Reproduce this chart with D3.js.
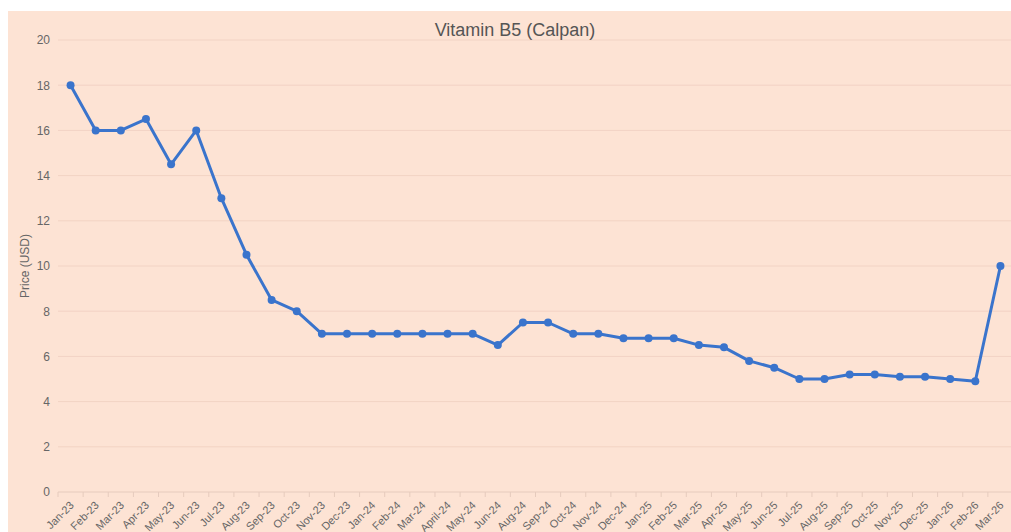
<!DOCTYPE html>
<html>
<head>
<meta charset="utf-8">
<script src="https://cdn.jsdelivr.net/npm/d3@7"></script>
<style>
  body { margin: 0; background: #fff; }
  text { font-family: "Liberation Sans", Arial, sans-serif; }
</style>
</head>
<body>
<div id="chart"></div>
<script>
// Data
var months = ["Jan-23", "Feb-23", "Mar-23", "Apr-23", "May-23", "Jun-23", "Jul-23", "Aug-23", "Sep-23", "Oct-23", "Nov-23", "Dec-23",
    "Jan-24", "Feb-24", "Mar-24", "April-24", "May-24", "Jun-24", "Aug-24", "Sep-24", "Oct-24", "Nov-24", "Dec-24",
    "Jan-25", "Feb-25", "Mar-25", "Apr-25", "May-25", "Jun-25", "Jul-25", "Aug-25", "Sep-25", "Oct-25", "Nov-25", "Dec-25",
    "Jan-26", "Feb-26", "Mar-26"];
var prices = [18, 16, 16, 16.5, 14.5, 16, 13, 10.5, 8.5, 8, 7, 7,
    7, 7, 7, 7, 7, 6.5, 7.5, 7.5, 7, 7, 6.8,
    6.8, 6.8, 6.5, 6.4, 5.8, 5.5, 5, 5, 5.2, 5.2, 5.1, 5.1,
    5, 4.9, 10];
var yTicks = [0, 2, 4, 6, 8, 10, 12, 14, 16, 18, 20];

var svgWidth = 1011;
var svgHeight = 532;
var margin = { top: 40, right: -2, bottom: 40, left: 58 };
var width = svgWidth - margin.left - margin.right;
var height = 492 - margin.top;

var svg = d3.select("#chart")
    .append("svg")
    .attr("width", svgWidth)
    .attr("height", svgHeight);

// peach background
svg.append("rect")
    .attr("x", 8)
    .attr("y", 11)
    .attr("width", svgWidth - 8)
    .attr("height", svgHeight - 11)
    .attr("fill", "#fde3d4");

var chartGroup = svg.append("g")
    .attr("transform", `translate(${margin.left}, ${margin.top})`);

// Scales
var xScale = d3.scalePoint()
    .domain(months)
    .range([0, width])
    .padding(0.5);
var yScale = d3.scaleLinear()
    .domain([0, 20])
    .range([height, 0]);

// Grid lines
chartGroup.selectAll(".grid")
    .data(yTicks.filter(d => d > 0))
    .enter()
    .append("line")
    .attr("x1", 0)
    .attr("x2", width)
    .attr("y1", d => yScale(d))
    .attr("y2", d => yScale(d))
    .attr("stroke", "#f2d3c4")
    .attr("stroke-width", 1);

// Y axis labels
var leftAxis = d3.axisLeft(yScale).tickValues(yTicks).tickSize(0).tickPadding(8);
var yAxis = chartGroup.append("g").call(leftAxis);
yAxis.select(".domain").remove();
yAxis.selectAll("text")
    .attr("fill", "#666")
    .style("font-size", "12px");

// X axis with boundary ticks
var step = xScale.step();
chartGroup.append("line")
    .attr("x1", 0).attr("x2", width)
    .attr("y1", height).attr("y2", height)
    .attr("stroke", "#e6cbbd");
chartGroup.selectAll(".xtick")
    .data(months)
    .enter()
    .append("line")
    .attr("x1", d => xScale(d) - step / 2)
    .attr("x2", d => xScale(d) - step / 2)
    .attr("y1", height)
    .attr("y2", height + 5)
    .attr("stroke", "#e6cbbd");

chartGroup.selectAll(".xlabel")
    .data(months)
    .enter()
    .append("text")
    .attr("transform", d => `translate(${xScale(d) + 4}, ${height + 14}) rotate(-45)`)
    .attr("text-anchor", "end")
    .attr("fill", "#666")
    .style("font-size", "11px")
    .text(d => d);

// Line
var line = d3.line()
    .x((d, i) => xScale(months[i]))
    .y(d => yScale(d));

chartGroup.append("path")
    .datum(prices)
    .attr("d", line)
    .attr("fill", "none")
    .attr("stroke", "#3a74cc")
    .attr("stroke-width", 3)
    .attr("stroke-linejoin", "round");

chartGroup.selectAll("circle")
    .data(prices)
    .enter()
    .append("circle")
    .attr("cx", (d, i) => xScale(months[i]))
    .attr("cy", d => yScale(d))
    .attr("r", 4)
    .attr("fill", "#3a74cc");

// Axis title
svg.append("text")
    .attr("transform", `translate(29, ${margin.top + height / 2}) rotate(-90)`)
    .attr("text-anchor", "middle")
    .attr("fill", "#666")
    .style("font-size", "12px")
    .text("Price (USD)");

// Chart title
svg.append("text")
    .attr("x", 515)
    .attr("y", 36)
    .attr("text-anchor", "middle")
    .attr("fill", "#555")
    .style("font-size", "18px")
    .text("Vitamin B5 (Calpan)");
</script>
</body>
</html>
